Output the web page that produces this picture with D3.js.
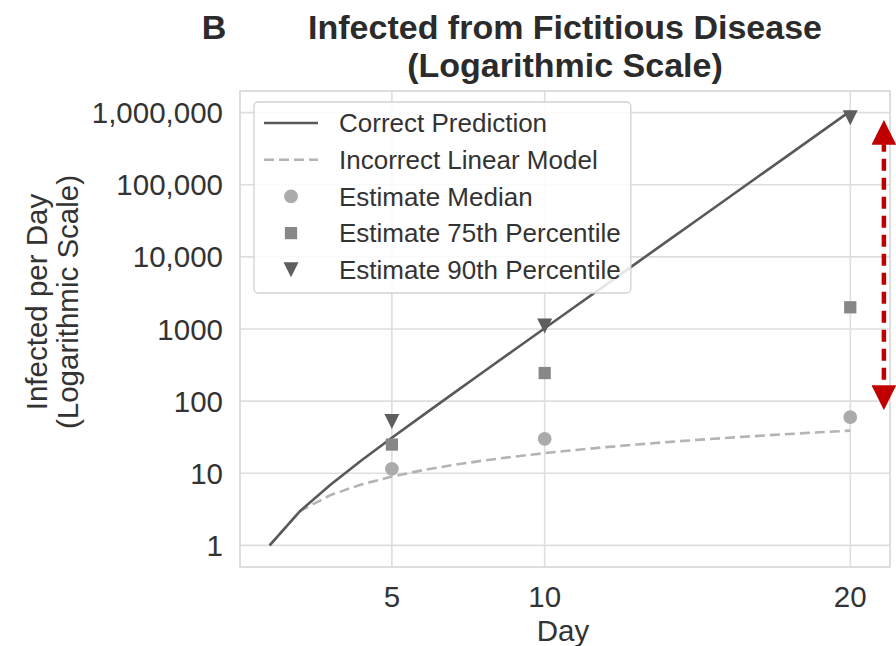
<!DOCTYPE html>
<html>
<head>
<meta charset="utf-8">
<script src="https://cdn.jsdelivr.net/npm/d3@7"></script>
<style>
  body { margin: 0; background: #fff; }
  text { font-family: "Liberation Sans", Arial, sans-serif; }
</style>
</head>
<body>
<div id="chart"></div>
<script>
// data
var days = [1, 2, 3, 4, 5, 6, 7, 8, 9, 10, 11, 12, 13, 14, 15, 16, 17, 18, 19, 20];
var correctPrediction = [1, 3, 7, 15, 31, 63, 127, 255, 511, 1023, 2047, 4095, 8191, 16383,
    32767, 65535, 131071, 262143, 524287, 1048575];
var linearModel = [1, 3, 5, 7, 9, 11, 13, 15, 17, 19, 21, 23, 25, 27, 29, 31, 33, 35, 37, 39];
var estimateDays = [5, 10, 20];
var estimateMedian = [11.5, 30, 60];
var estimate75 = [25, 245, 2000];
var estimate90 = [52, 1100, 850000];
var xTicks = [5, 10, 20];
var yTicks = [1, 10, 100, 1000, 10000, 100000, 1000000];
var yTickLabels = ["1", "10", "100", "1000", "10,000", "100,000", "1,000,000"];
var arrowDay = 21.1;
var arrowRange = [850000, 70];

var W = 896, H = 646;
var margin = { top: 91, right: 6, bottom: 79, left: 240 };
var width = W - margin.left - margin.right;
var height = H - margin.top - margin.bottom;

var svg = d3.select("#chart").append("svg")
    .attr("width", W)
    .attr("height", H);

var defs = svg.append("defs");
defs.append("marker")
    .attr("id", "arrowhead")
    .attr("viewBox", "0 0 10 10")
    .attr("refX", 2).attr("refY", 5)
    .attr("markerWidth", 5.5).attr("markerHeight", 5.5)
    .attr("markerUnits", "strokeWidth")
    .attr("orient", "auto-start-reverse")
    .append("path")
    .attr("d", "M0,0 L10,5 L0,10 z")
    .attr("fill", "#c00000");

var g = svg.append("g")
    .attr("transform", "translate(" + margin.left + "," + margin.top + ")");

var x = d3.scaleLinear().domain([0.03, 21.3]).range([0, width]);
var y = d3.scaleLog().domain([Math.pow(10, -0.3), Math.pow(10, 6.3)]).range([height, 0]);

// grid
g.selectAll(".hgrid").data(yTicks).enter().append("line")
    .attr("x1", 0).attr("x2", width)
    .attr("y1", function(d){ return y(d); })
    .attr("y2", function(d){ return y(d); })
    .attr("stroke", "#dedede").attr("stroke-width", 1.6);

g.selectAll(".vgrid").data(xTicks).enter().append("line")
    .attr("y1", 0).attr("y2", height)
    .attr("x1", function(d){ return x(d); })
    .attr("x2", function(d){ return x(d); })
    .attr("stroke", "#dedede").attr("stroke-width", 1.6);

g.append("rect")
    .attr("width", width).attr("height", height)
    .attr("fill", "none").attr("stroke", "#d6d6d6").attr("stroke-width", 1.6);

// tick labels
g.selectAll(".ylab").data(yTicks).enter().append("text")
    .attr("x", -17)
    .attr("y", function(d){ return y(d); })
    .attr("dy", "0.36em")
    .attr("text-anchor", "end")
    .attr("font-size", 29.5)
    .attr("fill", "#333")
    .text(function(d, i){ return yTickLabels[i]; });

g.selectAll(".xlab").data(xTicks).enter().append("text")
    .attr("x", function(d){ return x(d); })
    .attr("y", height + 40)
    .attr("text-anchor", "middle")
    .attr("font-size", 29.5)
    .attr("fill", "#333")
    .text(function(d){ return d; });

// lines
var line = d3.line()
    .x(function(d){ return x(d[0]); })
    .y(function(d){ return y(d[1]); });

g.append("path")
    .datum(days.map(function(d, i){ return [d, linearModel[i]]; }))
    .attr("d", line)
    .attr("fill", "none")
    .attr("stroke", "#b4b4b4")
    .attr("stroke-width", 2.6)
    .attr("stroke-dasharray", "10,5");

g.append("path")
    .datum(days.map(function(d, i){ return [d, correctPrediction[i]]; }))
    .attr("d", line)
    .attr("fill", "none")
    .attr("stroke", "#595959")
    .attr("stroke-width", 2.6);

// markers
var sym = {
    circle: d3.symbol().type(d3.symbolCircle).size(150),
    square: d3.symbol().type(d3.symbolSquare).size(150)
};
function triDown(s) {
    return "M" + (-s) + "," + (-s) + "L" + s + "," + (-s) + "L0," + s + "Z";
}

g.selectAll(".med").data(estimateDays).enter().append("path")
    .attr("d", sym.circle())
    .attr("transform", function(d, i){ return "translate(" + x(d) + "," + y(estimateMedian[i]) + ")"; })
    .attr("fill", "#ababab");

g.selectAll(".p75").data(estimateDays).enter().append("path")
    .attr("d", sym.square())
    .attr("transform", function(d, i){ return "translate(" + x(d) + "," + y(estimate75[i]) + ")"; })
    .attr("fill", "#878787");

g.selectAll(".p90").data(estimateDays).enter().append("path")
    .attr("d", triDown(7.5))
    .attr("transform", function(d, i){ return "translate(" + x(d) + "," + y(estimate90[i]) + ")"; })
    .attr("fill", "#5e5e5e");

// red double arrow
g.append("line")
    .attr("x1", x(arrowDay)).attr("x2", x(arrowDay))
    .attr("y1", y(arrowRange[0]) + 22)
    .attr("y2", y(arrowRange[1]) - 22)
    .attr("stroke", "#c00000")
    .attr("stroke-width", 4.5)
    .attr("stroke-dasharray", "12,7")
    .attr("marker-start", "url(#arrowhead)")
    .attr("marker-end", "url(#arrowhead)");

// legend
var legendItems = [
    { label: "Correct Prediction", kind: "solid" },
    { label: "Incorrect Linear Model", kind: "dashed" },
    { label: "Estimate Median", kind: "circle" },
    { label: "Estimate 75th Percentile", kind: "square" },
    { label: "Estimate 90th Percentile", kind: "tri" }
];

var legend = g.append("g").attr("transform", "translate(14,11)");
var legendBox = legend.append("rect")
    .attr("height", 191)
    .attr("rx", 4).attr("ry", 4)
    .attr("fill", "#fff").attr("fill-opacity", 0.85)
    .attr("stroke", "#d2d2d2").attr("stroke-width", 1.3);

var li = legend.selectAll(".legend").data(legendItems).enter().append("g")
    .attr("class", "legend")
    .attr("transform", function(d, i){ return "translate(0," + (21 + 36.7 * i) + ")"; });

li.each(function(d){
    var el = d3.select(this);
    if (d.kind === "solid" || d.kind === "dashed") {
        el.append("line")
            .attr("x1", 10).attr("x2", 64)
            .attr("stroke", d.kind === "solid" ? "#595959" : "#b4b4b4")
            .attr("stroke-width", 2.6)
            .attr("stroke-dasharray", d.kind === "dashed" ? "10,5" : null);
    } else if (d.kind === "circle") {
        el.append("path").attr("d", sym.circle()).attr("transform", "translate(37,0)").attr("fill", "#ababab");
    } else if (d.kind === "square") {
        el.append("path").attr("d", sym.square()).attr("transform", "translate(37,0)").attr("fill", "#878787");
    } else {
        el.append("path").attr("d", triDown(7.5)).attr("transform", "translate(37,0)").attr("fill", "#5e5e5e");
    }
});

li.append("text")
    .attr("x", 85)
    .attr("dy", "0.36em")
    .attr("font-size", 26)
    .attr("fill", "#333")
    .text(function(d){ return d.label; });

var maxText = d3.max(li.selectAll("text").nodes(), function(n){ return n.getComputedTextLength(); });
legendBox.attr("width", 85 + maxText + 10);

// titles
svg.append("text")
    .attr("x", 214).attr("y", 39)
    .attr("text-anchor", "middle")
    .attr("font-size", 34).attr("font-weight", "bold")
    .attr("fill", "#2b2b2b")
    .text("B");

svg.append("text")
    .attr("x", 565).attr("y", 39)
    .attr("text-anchor", "middle")
    .attr("font-size", 34).attr("font-weight", "bold")
    .attr("fill", "#2b2b2b")
    .text("Infected from Fictitious Disease");

svg.append("text")
    .attr("x", 565).attr("y", 77)
    .attr("text-anchor", "middle")
    .attr("font-size", 34).attr("font-weight", "bold")
    .attr("fill", "#2b2b2b")
    .text("(Logarithmic Scale)");

svg.append("text")
    .attr("x", margin.left + x(10.6)).attr("y", 641)
    .attr("text-anchor", "middle")
    .attr("font-size", 29.5)
    .attr("fill", "#333")
    .text("Day");

var ylab = svg.append("g").attr("transform", "translate(0,302) rotate(-90)");
ylab.append("text")
    .attr("x", 0).attr("y", 47)
    .attr("text-anchor", "middle")
    .attr("font-size", 29.5).attr("fill", "#333")
    .text("Infected per Day");
ylab.append("text")
    .attr("x", 0).attr("y", 78)
    .attr("text-anchor", "middle")
    .attr("font-size", 29.5).attr("fill", "#333")
    .text("(Logarithmic Scale)");
</script>
</body>
</html>
